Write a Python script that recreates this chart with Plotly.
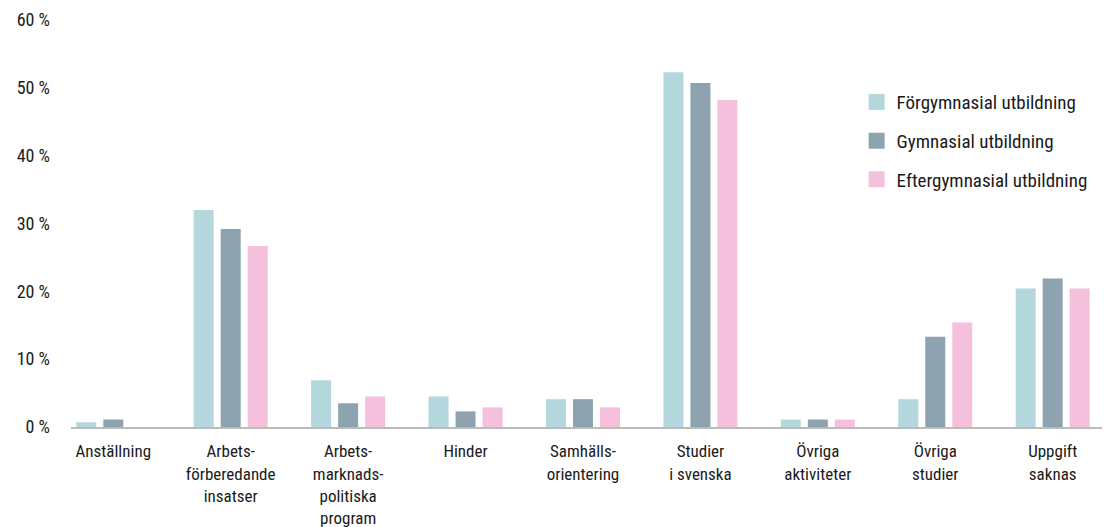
import plotly.graph_objects as go

categories = [
    "Anställning",
    "Arbets-<br>förberedande<br>insatser",
    "Arbets-<br>marknads-<br>politiska<br>program",
    "Hinder",
    "Samhälls-<br>orientering",
    "Studier<br>i svenska",
    "Övriga<br>aktiviteter",
    "Övriga<br>studier",
    "Uppgift<br>saknas",
]
forgymnasial = [0.7, 32.0, 6.9, 4.5, 4.1, 52.3, 1.1, 4.1, 20.4]
gymnasial = [1.1, 29.2, 3.5, 2.3, 4.1, 50.7, 1.1, 13.3, 21.9]
eftergymnasial = [0.0, 26.7, 4.5, 2.9, 2.9, 48.2, 1.1, 15.4, 20.4]
series_names = ["Förgymnasial utbildning", "Gymnasial utbildning", "Eftergymnasial utbildning"]
colors = ["#B4D7DD", "#8DA3AF", "#F5C0DC"]
y_ticks = [0, 10, 20, 30, 40, 50, 60]
y_tick_labels = ["0 %", "10 %", "20 %", "30 %", "40 %", "50 %", "60 %"]

FONT = "Roboto Condensed, Liberation Sans Narrow, Arial Narrow, sans-serif"
TXT = "#1a1a1a"

fig = go.Figure()
for name, vals, col in zip(series_names, [forgymnasial, gymnasial, eftergymnasial], colors):
    fig.add_trace(go.Bar(
        x=categories, y=vals, name=name, marker_color=col,
        marker_line_width=0, legendgroup=name, showlegend=False,
    ))
# legend-only entries with larger square swatches
for name, col in zip(series_names, colors):
    fig.add_trace(go.Scatter(
        x=[None], y=[None], mode="markers", name=name, legendgroup=name,
        marker=dict(symbol="square", size=20, color=col),
    ))

fig.update_layout(
    width=1108, height=527,
    margin=dict(l=71, r=6, t=20, b=100),
    paper_bgcolor="white", plot_bgcolor="white",
    font=dict(family=FONT, size=18, color=TXT),
    barmode="group",
    bargap=0.31,
    bargroupgap=0.26,
    showlegend=True,
    legend=dict(
        x=0.762, y=0.845, xanchor="left", yanchor="top",
        font=dict(family=FONT, size=19, color=TXT),
        tracegroupgap=11,
        bgcolor="rgba(0,0,0,0)",
    ),
    xaxis=dict(
        type="category",
        range=[-0.36, 8.42],
        automargin=False,
        showline=True, linecolor="#BBBBBB", linewidth=2,
        showgrid=False, zeroline=False,
        ticks="", ticklabelstandoff=8,
        tickfont=dict(family=FONT, size=17, color=TXT),
    ),
    yaxis=dict(
        range=[0, 60],
        automargin=False,
        tickvals=y_ticks, ticktext=y_tick_labels,
        showgrid=False, zeroline=False, showline=False,
        ticks="", ticklabelstandoff=20,
        tickfont=dict(family=FONT, size=18, color=TXT),
    ),
)

fig.write_html("out.html")
